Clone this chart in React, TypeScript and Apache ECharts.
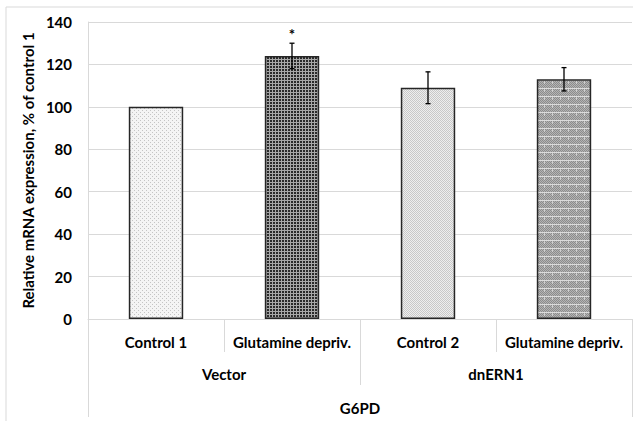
import React, { useEffect, useRef } from 'react';
import * as echarts from 'echarts';

const categories = ['Control 1', 'Glutamine depriv.', 'Control 2', 'Glutamine depriv.'];
const groups = ['Vector', 'dnERN1'];
const gene = ['G6PD'];
const means = [100, 124, 109, 113];
const errors = [0, 6, 7.5, 5.5];
const marks = ['', '*', '', ''];
const yMin = 0;
const yMax = 140;
const yStep = 20;
const yTitle = 'Relative mRNA expression, % of control 1';

const FONT = 'Lato, "Open Sans", "DejaVu Sans", sans-serif';

function tile(w: number, h: number, fn: (x: number, y: number) => string) {
  const c = document.createElement('canvas');
  c.width = w;
  c.height = h;
  const ctx = c.getContext('2d')!;
  for (let y = 0; y < h; y++) {
    for (let x = 0; x < w; x++) {
      ctx.fillStyle = fn(x, y);
      ctx.fillRect(x, y, 1, 1);
    }
  }
  return { image: c, repeat: 'repeat', imageWidth: w, imageHeight: h } as any;
}

export default function App() {
  const ref = useRef<HTMLDivElement>(null);
  useEffect(() => {
    document.body.style.margin = '0';
    const chart = echarts.init(ref.current!, null, { renderer: 'svg' });

    const patterns = [
      tile(4, 4, (x, y) => ((x === 0 && y === 0) || (x === 2 && y === 2) ? '#c4c4c4' : '#f4f4f4')),
      tile(3, 3, (x, y) => (x < 2 && y < 2 ? '#2a2a2a' : '#a8a8a8')),
      tile(2, 2, (x, y) => ((x + y) % 2 === 0 ? '#c8c8c8' : '#eeeeee')),
      tile(8, 8, (x, y) =>
        y === 0 ? '#dcdcdc' : x === 0 && y < 4 ? '#cfcfcf' : (x + y) % 2 === 0 ? '#8c8c8c' : '#b4b4b4'
      ),
    ];

    const option: any = {
      animation: false,
      backgroundColor: '#ffffff',
      graphic: [
        {
          type: 'rect',
          silent: true,
          z: -10,
          shape: { x: 6, y: 7, width: 700, height: 500 },
          style: { fill: 'none', stroke: '#d9d9d9', lineWidth: 1 },
        },
      ],
      grid: { left: 88, right: 1, top: 22, bottom: 102, containLabel: false },
      xAxis: [
        {
          type: 'category',
          data: categories,
          position: 'bottom',
          axisLine: { show: true, lineStyle: { color: '#d9d9d9', width: 1 } },
          axisTick: { show: true, length: 33, lineStyle: { color: '#d9d9d9' } },
          axisLabel: {
            interval: 0,
            margin: 15,
            color: '#000',
            fontFamily: FONT,
            fontWeight: 'bold',
            fontSize: 15,
          },
        },
        {
          type: 'category',
          data: groups,
          position: 'bottom',
          axisLine: { show: false },
          axisTick: { show: true, length: 66, lineStyle: { color: '#d9d9d9' } },
          axisLabel: {
            interval: 0,
            margin: 47,
            color: '#000',
            fontFamily: FONT,
            fontWeight: 'bold',
            fontSize: 15,
          },
        },
        {
          type: 'category',
          data: gene,
          position: 'bottom',
          axisLine: { show: false },
          axisTick: { show: true, length: 98, lineStyle: { color: '#d9d9d9' } },
          axisLabel: {
            interval: 0,
            margin: 81,
            color: '#000',
            fontFamily: FONT,
            fontWeight: 'bold',
            fontSize: 15,
          },
        },
      ],
      yAxis: {
        type: 'value',
        min: yMin,
        max: yMax,
        interval: yStep,
        name: yTitle,
        nameLocation: 'middle',
        nameGap: 52,
        nameTextStyle: { color: '#000', fontFamily: FONT, fontWeight: 'bold', fontSize: 15 },
        axisLine: { show: true, lineStyle: { color: '#d9d9d9' } },
        axisTick: { show: false },
        axisLabel: { margin: 16, color: '#000', fontFamily: FONT, fontWeight: 'bold', fontSize: 15 },
        splitLine: { show: true, lineStyle: { color: '#d9d9d9', width: 1 } },
      },
      series: [
        {
          type: 'bar',
          xAxisIndex: 0,
          barWidth: '40%',
          data: means.map((v, i) => ({
            value: v,
            itemStyle: { color: patterns[i], borderColor: '#262626', borderWidth: 1.5 },
          })),
        },
        {
          type: 'custom',
          xAxisIndex: 0,
          z: 5,
          data: means.map((m, i) => [i, m, errors[i]]),
          encode: { x: 0, y: 1 },
          renderItem: (params: any, api: any) => {
            const i = api.value(0);
            const m = api.value(1);
            const e = api.value(2);
            const top = api.coord([i, m + e]);
            const bot = api.coord([i, m - e]);
            const children: any[] = [];
            const st = { stroke: '#000', lineWidth: 1.3 };
            if (e > 0) {
              children.push({ type: 'line', shape: { x1: top[0], y1: top[1], x2: bot[0], y2: bot[1] }, style: st });
              children.push({ type: 'line', shape: { x1: top[0] - 2.5, y1: top[1], x2: top[0] + 2.5, y2: top[1] }, style: st });
              children.push({ type: 'line', shape: { x1: bot[0] - 2.5, y1: bot[1], x2: bot[0] + 2.5, y2: bot[1] }, style: st });
            }
            const note = marks[params.dataIndex];
            if (note) {
              children.push({
                type: 'text',
                x: top[0],
                y: top[1] - 2,
                style: {
                  text: note,
                  align: 'center',
                  verticalAlign: 'bottom',
                  font: 'bold 15px ' + FONT,
                  fill: '#000',
                },
              });
            }
            return { type: 'group', children };
          },
        },
      ],
    };
    chart.setOption(option);
    return () => chart.dispose();
  }, []);
  return <div ref={ref} style={{ width: 633, height: 421 }} />;
}
